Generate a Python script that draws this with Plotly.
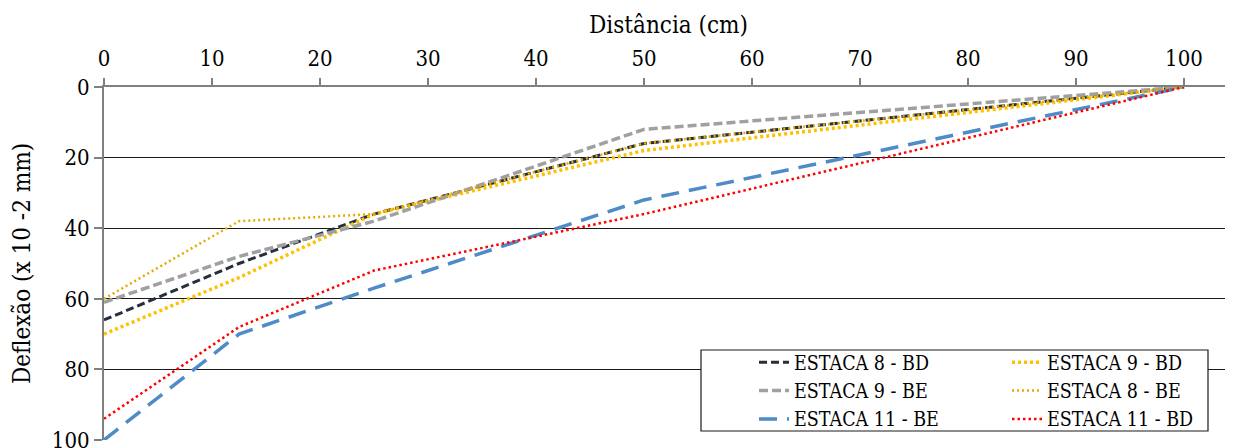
import plotly.graph_objects as go

distancia = [0, 12.5, 25, 50, 100]
estaca_8_bd = [66, 50, 36, 16, 0]
estaca_9_bd = [70, 54, 36, 18, 0]
estaca_9_be = [61, 48, 38, 12, 0]
estaca_8_be = [60, 38, 36, 16, 0]
estaca_11_be = [100, 70, 57, 32, 0]
estaca_11_bd = [94, 68, 52, 36, 0]

FONT = "DejaVu Serif Condensed, DejaVu Serif"

series = [
    ("ESTACA 8 - BD", estaca_8_bd, "#262F3D", 3, "8px,4px", "legend"),
    ("ESTACA 9 - BD", estaca_9_bd, "#FFC000", 3.5, "3px,3px", "legend2"),
    ("ESTACA 9 - BE", estaca_9_be, "#A0A0A0", 3.5, "9px,4px", "legend"),
    ("ESTACA 8 - BE", estaca_8_be, "#E5AA00", 2.5, "2px,3px", "legend2"),
    ("ESTACA 11 - BE", estaca_11_be, "#4E8BC7", 3.5, "18px,10px", "legend"),
    ("ESTACA 11 - BD", estaca_11_bd, "#FF0000", 2.5, "2.5px,3px", "legend2"),
]

fig = go.Figure()
for name, vals, color, width, dash, leg in series:
    fig.add_trace(go.Scatter(
        x=distancia, y=vals, mode="lines", name=name,
        line=dict(color=color, width=width, dash=dash),
        legend=leg,
    ))

OFF = 8
W, H = 1233 - OFF, 448 - OFF
L, T, B = 104 - OFF, 87 - OFF, 8
pw, ph = W - L, H - T - B

def px_x(p):
    return (p - OFF - L) / pw

def px_y(p):
    return 1 - (p - OFF - T) / ph

fig.update_layout(
    width=W, height=H,
    margin=dict(l=L, r=0, t=T, b=B, autoexpand=False),
    paper_bgcolor="white", plot_bgcolor="white",
    font=dict(family=FONT, color="black", size=22),
    xaxis=dict(
        side="top", range=[0, pw / 10.8], tickvals=[0, 10, 20, 30, 40, 50, 60, 70, 80, 90, 100],
        showgrid=False, zeroline=False,
        showline=True, linecolor="#808080", linewidth=2,
        ticks="outside", ticklen=7, tickcolor="#808080", tickwidth=1.5,
        ticklabelstandoff=3,
        tickfont=dict(size=22, family=FONT, color="black"),
        title=dict(text="Distância (cm)", font=dict(size=24, family=FONT, color="black"), standoff=6),
    ),
    yaxis=dict(
        range=[100, 0], tickvals=[0, 20, 40, 60, 80, 100],
        showgrid=True, gridcolor="#1a1a1a", gridwidth=1.3,
        zeroline=False,
        showline=True, linecolor="#808080", linewidth=2,
        ticks="outside", ticklen=8, tickcolor="#808080", tickwidth=1.5,
        ticklabeloverflow="allow",
        tickfont=dict(size=22, family=FONT, color="black"),
        title=dict(text="Deflexão (x 10 -2 mm)", font=dict(size=24, family=FONT, color="black"), standoff=27),
    ),
    legend=dict(
        x=px_x(754), y=px_y(343), xanchor="left", yanchor="top",
        bgcolor="rgba(0,0,0,0)", borderwidth=0,
        font=dict(size=19.5, family=FONT, color="black"),
        orientation="v",
    ),
    legend2=dict(
        x=px_x(1007), y=px_y(343), xanchor="left", yanchor="top",
        bgcolor="rgba(0,0,0,0)", borderwidth=0,
        font=dict(size=19.5, family=FONT, color="black"),
        orientation="v",
    ),
    shapes=[dict(
        type="rect", xref="paper", yref="paper",
        x0=px_x(701), x1=px_x(1208), y0=px_y(431), y1=px_y(350),
        line=dict(color="#1a1a1a", width=1.2), fillcolor="white", layer="above",
    )],
)

fig.write_html("out.html")
